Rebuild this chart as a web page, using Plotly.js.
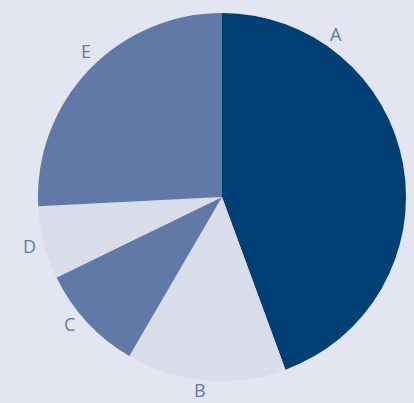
<!DOCTYPE html>
<html>
<head>
<meta charset="utf-8">
<script src="https://cdn.plot.ly/plotly-3.0.1.min.js"></script>
<style>html,body{margin:0;padding:0;background:#e3e6f0;}#chart{width:414px;height:403px;}</style>
</head>
<body>
<div id="chart"></div>
<script>
const categories = ["A", "B", "C", "D", "E"];
const values = [44.4, 14.0, 9.4, 6.4, 25.8];
const colors = ["#003f73", "#d9dce9", "#6079a6", "#d9dce9", "#6079a6"];

const W = 414, H = 403;
const cx = 222, cy = 197, R = 184;
const labelR = 199;
// label placement adjustments relative to slice middle
const labelShift = {"A": -45, "B": 1.5, "C": 3, "E": 3.5};
const labelRadius = {"B": 194};

const total = values.reduce((a, b) => a + b, 0);
let cum = 0;
const annotations = categories.map((c, i) => {
  const mid = (cum + values[i] / 2) / total * 360 + (labelShift[c] || 0);
  cum += values[i];
  const rad = mid * Math.PI / 180;
  const r = labelRadius[c] || labelR;
  const px = cx + r * Math.sin(rad);
  const py = cy - r * Math.cos(rad);
  return {
    text: c, x: px / W, y: 1 - py / H, xref: "paper", yref: "paper",
    showarrow: false, xanchor: "center", yanchor: "middle", borderpad: 0,
    font: {family: "Open Sans", size: 18, color: "#6079a6"}
  };
});

const data = [{
  type: "pie",
  labels: categories,
  values: values,
  sort: false,
  direction: "clockwise",
  rotation: 0,
  textinfo: "none",
  hoverinfo: "label+value",
  marker: {colors: colors, line: {width: 0}},
  domain: {x: [(cx - R) / W, (cx + R) / W], y: [1 - (cy + R) / H, 1 - (cy - R) / H]}
}];

const layout = {
  width: W, height: H,
  margin: {l: 0, r: 0, t: 0, b: 0},
  paper_bgcolor: "#e3e6f0",
  plot_bgcolor: "#e3e6f0",
  showlegend: false,
  annotations: annotations
};

Plotly.newPlot("chart", data, layout, {displayModeBar: false, staticPlot: true});
</script>
</body>
</html>
